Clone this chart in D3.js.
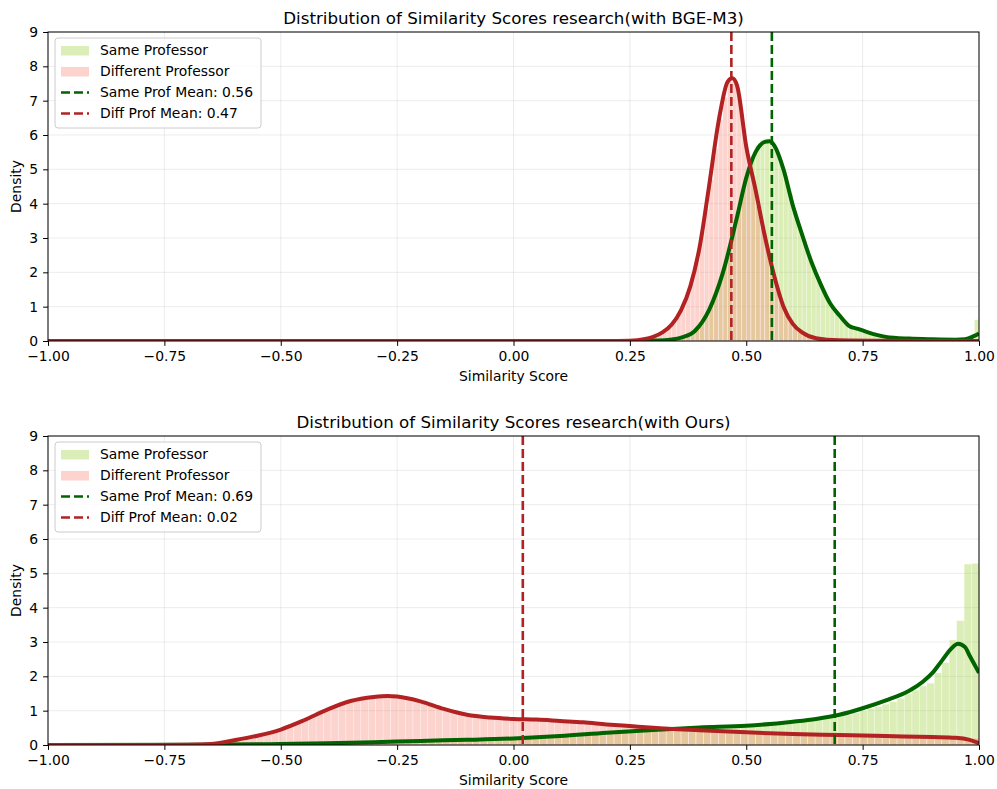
<!DOCTYPE html>
<html lang="en">
<head>
<meta charset="UTF-8">
<title>Similarity Scores</title>
<script src="https://cdn.jsdelivr.net/npm/d3@7"></script>
<style>
  body { margin: 0; background: #fff; }
  svg { font-family: "DejaVu Sans", sans-serif; display: block; }
</style>
</head>
<body>
<svg id="chart" width="997" height="789"></svg>
<script>
// ---- data ----
const xTicks = [-1, -0.75, -0.5, -0.25, 0, 0.25, 0.5, 0.75, 1];
const yTicks = [0, 1, 2, 3, 4, 5, 6, 7, 8, 9];

// top panel (BGE-M3)
const topTitle = "Distribution of Similarity Scores research(with BGE-M3)";
const topBinWidth = 0.01;
const topSameStart = 0.30;
const topSameHist = [0.0, 0.01, 0.02, 0.03, 0.05, 0.08, 0.12, 0.18, 0.27, 0.38,
  0.52, 0.75, 1.05, 1.4, 1.8, 2.2, 2.75, 3.3, 3.9, 4.45,
  4.95, 5.35, 5.7, 5.85, 5.9, 5.85, 5.55, 5.2, 4.8, 4.3,
  3.8, 3.35, 2.9, 2.5, 2.15, 1.8, 1.5, 1.25, 1.0, 0.82,
  0.67, 0.52, 0.42, 0.37, 0.32, 0.27, 0.23, 0.19, 0.15, 0.12,
  0.1, 0.09, 0.08, 0.08, 0.07, 0.07, 0.06, 0.06, 0.05, 0.05,
  0.05, 0.05, 0.04, 0.04, 0.04, 0.04, 0.03, 0.03, 0.04, 0.62];
const topDiffStart = 0.28;
const topDiffHist = [0.06, 0.08, 0.14, 0.2, 0.28, 0.4, 0.58, 0.8, 1.08, 1.42,
  1.85, 2.4, 3.1, 3.85, 4.7, 5.6, 6.45, 7.1, 7.55, 7.6,
  7.15, 6.2, 5.35, 4.7, 3.95, 3.3, 2.7, 2.1, 1.65, 1.2,
  0.85, 0.6, 0.42, 0.3, 0.2, 0.14, 0.09, 0.06, 0.04, 0.02, 0.01];
const topSameKdeX = [-1, 0.25, 0.30, 0.33, 0.36, 0.39, 0.42, 0.45, 0.48, 0.50, 0.52, 0.54, 0.55, 0.56, 0.58, 0.60,
  0.62, 0.64, 0.66, 0.68, 0.70, 0.72, 0.74, 0.76, 0.78, 0.80, 0.85, 0.90, 0.95, 0.97, 0.99, 1.0];
const topSameKdeY = [0, 0, 0.01, 0.03, 0.1, 0.3, 0.9, 2.0, 3.6, 4.75, 5.5, 5.8, 5.82, 5.7, 5.0, 3.95,
  3.1, 2.3, 1.65, 1.1, 0.75, 0.45, 0.35, 0.26, 0.18, 0.12, 0.07, 0.05, 0.04, 0.05, 0.15, 0.22];
const topDiffKdeX = [-1, 0.20, 0.25, 0.28, 0.30, 0.32, 0.34, 0.36, 0.38, 0.40, 0.42, 0.44, 0.46, 0.47, 0.48, 0.50,
  0.52, 0.54, 0.56, 0.58, 0.60, 0.62, 0.65, 0.70, 0.80, 1.0];
const topDiffKdeY = [0, 0, 0.01, 0.05, 0.12, 0.25, 0.48, 0.9, 1.6, 2.75, 4.5, 6.35, 7.55, 7.65, 7.45, 5.66,
  4.4, 3.05, 1.9, 1.0, 0.5, 0.25, 0.08, 0.02, 0.005, 0];
const topSameMean = 0.555;
const topDiffMean = 0.468;
const topLegend = ["Same Professor", "Different Professor", "Same Prof Mean: 0.56", "Diff Prof Mean: 0.47"];

// bottom panel (Ours)
const botTitle = "Distribution of Similarity Scores research(with Ours)";
const botBinWidth = 0.016;
const botSameStart = -1.0;
const botSameHist = [0, 0, 0, 0, 0, 0, 0, 0, 0, 0,
  0, 0, 0, 0.002, 0.003, 0.004, 0.005, 0.006, 0.008, 0.009,
  0.01, 0.012, 0.014, 0.016, 0.018, 0.02, 0.022, 0.024, 0.026, 0.028,
  0.03, 0.032, 0.034, 0.036, 0.038, 0.04, 0.042, 0.045, 0.048, 0.05,
  0.053, 0.056, 0.06, 0.064, 0.068, 0.072, 0.076, 0.08, 0.085, 0.09,
  0.095, 0.1, 0.105, 0.11, 0.115, 0.12, 0.125, 0.13, 0.14, 0.15,
  0.16, 0.17, 0.18, 0.19, 0.2, 0.21, 0.22, 0.24, 0.26, 0.28,
  0.3, 0.32, 0.34, 0.36, 0.38, 0.39, 0.4, 0.41, 0.42, 0.43,
  0.44, 0.45, 0.46, 0.47, 0.48, 0.49, 0.5, 0.51, 0.52, 0.53,
  0.54, 0.55, 0.55, 0.56, 0.57, 0.59, 0.61, 0.63, 0.65, 0.67,
  0.69, 0.71, 0.73, 0.75, 0.78, 0.81, 0.85, 0.89, 0.94, 1.0,
  1.07, 1.12, 1.19, 1.26, 1.36, 1.49, 1.6, 1.72, 1.8, 2.1,
  2.4, 3.06, 3.62, 5.27, 5.29];
const botDiffStart = -1.0;
const botDiffHist = [0, 0, 0, 0, 0, 0, 0, 0, 0, 0,
  0, 0, 0, 0.002, 0.003, 0.005, 0.007, 0.01, 0.015, 0.02,
  0.03, 0.045, 0.07, 0.1, 0.13, 0.17, 0.21, 0.25, 0.29, 0.34,
  0.4, 0.46, 0.54, 0.63, 0.72, 0.82, 0.92, 1.02, 1.1, 1.18,
  1.25, 1.31, 1.36, 1.39, 1.42, 1.43, 1.42, 1.39, 1.34, 1.29,
  1.22, 1.15, 1.08, 1.01, 0.96, 0.91, 0.87, 0.84, 0.81, 0.79,
  0.78, 0.77, 0.76, 0.75, 0.75, 0.74, 0.73, 0.72, 0.7, 0.69,
  0.68, 0.66, 0.65, 0.63, 0.61, 0.59, 0.57, 0.55, 0.54, 0.52,
  0.51, 0.5, 0.49, 0.48, 0.47, 0.46, 0.44, 0.43, 0.42, 0.41,
  0.4, 0.39, 0.38, 0.37, 0.36, 0.35, 0.34, 0.34, 0.33, 0.32,
  0.32, 0.31, 0.31, 0.3, 0.3, 0.29, 0.29, 0.28, 0.28, 0.27,
  0.27, 0.26, 0.26, 0.25, 0.25, 0.24, 0.24, 0.23, 0.23, 0.22,
  0.22, 0.21, 0.21, 0.2, 0.2];
const botSameKdeX = [-1, -0.7, -0.5, -0.4, -0.3, -0.2, -0.1, 0, 0.1, 0.2, 0.3, 0.4, 0.5, 0.6, 0.65, 0.7,
  0.75, 0.8, 0.85, 0.88, 0.9, 0.92, 0.94, 0.955, 0.97, 0.98, 0.99, 1.0];
const botSameKdeY = [0, 0.005, 0.03, 0.05, 0.08, 0.12, 0.15, 0.19, 0.26, 0.36, 0.44, 0.51, 0.56, 0.68, 0.76, 0.88,
  1.07, 1.3, 1.58, 1.85, 2.1, 2.45, 2.8, 2.95, 2.85, 2.6, 2.35, 2.1];
const botDiffKdeX = [-1, -0.8, -0.7, -0.65, -0.6, -0.55, -0.5, -0.45, -0.4, -0.35, -0.3, -0.27, -0.25, -0.2, -0.15,
  -0.1, -0.05, 0, 0.05, 0.1, 0.15, 0.2, 0.25, 0.3, 0.4, 0.5, 0.6, 0.7, 0.8, 0.9, 0.95, 0.98, 1.0];
const botDiffKdeY = [0, 0, 0.01, 0.03, 0.14, 0.27, 0.45, 0.72, 1.03, 1.28, 1.4, 1.43, 1.41, 1.27, 1.05,
  0.88, 0.8, 0.76, 0.74, 0.7, 0.66, 0.6, 0.55, 0.5, 0.43, 0.37, 0.32, 0.29, 0.26, 0.23, 0.21, 0.15, 0.05];
const botSameMean = 0.69;
const botDiffMean = 0.02;
const botLegend = ["Same Professor", "Different Professor", "Same Prof Mean: 0.69", "Diff Prof Mean: 0.02"];

// ---- drawing ----
const svg = d3.select("#chart");
const left = 48, plotW = 931, plotH = 309;
const sameFill = "#9acd32", diffFill = "#fa8072", fillAlpha = 0.35;
const sameLine = "#006400", diffLine = "#b22222";
const fontSize = 13.9, titleSize = 16.7;

const x = d3.scaleLinear().domain([-1, 1]).range([0, plotW]);
const y = d3.scaleLinear().domain([0, 9]).range([plotH, 0]);

function drawPanel(top, p, id) {
  const g = svg.append("g").attr("transform", `translate(${left},${top})`);

  g.append("clipPath").attr("id", id)
    .append("rect").attr("width", plotW).attr("height", plotH);

  // grid
  g.append("g").selectAll("line").data(xTicks).enter().append("line")
    .attr("x1", d => x(d)).attr("x2", d => x(d)).attr("y1", 0).attr("y2", plotH)
    .attr("stroke", "#b0b0b0").attr("stroke-opacity", 0.3).attr("stroke-width", 0.8);
  g.append("g").selectAll("line").data(yTicks).enter().append("line")
    .attr("y1", d => y(d)).attr("y2", d => y(d)).attr("x1", 0).attr("x2", plotW)
    .attr("stroke", "#b0b0b0").attr("stroke-opacity", 0.3).attr("stroke-width", 0.8);

  const plot = g.append("g").attr("clip-path", `url(#${id})`);

  function bars(vals, start, width, color) {
    plot.append("g").selectAll("rect").data(vals).enter().append("rect")
      .attr("x", (d, i) => x(start + i * width))
      .attr("width", (d, i) => x(start + (i + 1) * width) - x(start + i * width))
      .attr("y", d => y(d))
      .attr("height", d => plotH - y(d))
      .attr("fill", color).attr("fill-opacity", fillAlpha)
      .attr("stroke", "#fff").attr("stroke-opacity", 0.5).attr("stroke-width", 0.6);
  }
  bars(p.sameHist, p.sameStart, p.binWidth, sameFill);
  bars(p.diffHist, p.diffStart, p.binWidth, diffFill);

  const line = d3.line().x(d => x(d[0])).y(d => y(d[1])).curve(d3.curveMonotoneX);
  plot.append("path").datum(d3.zip(p.sameKdeX, p.sameKdeY))
    .attr("d", line).attr("fill", "none").attr("stroke", sameLine).attr("stroke-width", 4);
  plot.append("path").datum(d3.zip(p.diffKdeX, p.diffKdeY))
    .attr("d", line).attr("fill", "none").attr("stroke", diffLine).attr("stroke-width", 4);

  // mean lines
  [[p.sameMean, sameLine], [p.diffMean, diffLine]].forEach(([m, c]) => {
    plot.append("line").attr("x1", x(m)).attr("x2", x(m)).attr("y1", 0).attr("y2", plotH)
      .attr("stroke", c).attr("stroke-width", 2.6).attr("stroke-dasharray", "9,4");
  });

  // axes
  const xa = g.append("g").attr("transform", `translate(0,${plotH})`)
    .call(d3.axisBottom(x).tickValues(xTicks).tickFormat(d3.format(".2f"))
      .tickSizeOuter(0).tickSize(4.9).tickPadding(4.9));
  const ya = g.append("g")
    .call(d3.axisLeft(y).tickValues(yTicks).tickFormat(d3.format("d"))
      .tickSizeOuter(0).tickSize(4.9).tickPadding(4.9));
  [xa, ya].forEach(a => {
    a.select(".domain").remove();
    a.attr("font-family", "DejaVu Sans, sans-serif").attr("font-size", fontSize);
    a.selectAll(".tick line").attr("stroke", "#000").attr("stroke-width", 1);
    a.selectAll(".tick text").attr("fill", "#000").attr("font-size", fontSize);
  });

  g.append("rect").attr("width", plotW).attr("height", plotH)
    .attr("fill", "none").attr("stroke", "#000").attr("stroke-width", 1);

  // titles
  g.append("text").attr("x", plotW / 2).attr("y", -8).attr("text-anchor", "middle")
    .attr("font-size", titleSize).text(p.title);
  g.append("text").attr("x", plotW / 2).attr("y", plotH + 40).attr("text-anchor", "middle")
    .attr("font-size", fontSize).text("Similarity Score");
  g.append("text").attr("transform", `translate(-27,${plotH / 2}) rotate(-90)`)
    .attr("text-anchor", "middle").attr("font-size", fontSize).text("Density");

  // legend
  const lg = g.append("g").attr("transform", "translate(7,6)");
  lg.append("rect").attr("width", 206).attr("height", 90).attr("rx", 3)
    .attr("fill", "#fff").attr("fill-opacity", 0.8).attr("stroke", "#ccc");
  const items = [
    { kind: "patch", color: sameFill },
    { kind: "patch", color: diffFill },
    { kind: "line", color: sameLine },
    { kind: "line", color: diffLine }
  ];
  items.forEach((it, i) => {
    const cy = 12.5 + i * 21;
    if (it.kind === "patch") {
      lg.append("rect").attr("x", 6).attr("y", cy - 4.5).attr("width", 28).attr("height", 9.5)
        .attr("fill", it.color).attr("fill-opacity", fillAlpha);
    } else {
      lg.append("line").attr("x1", 6).attr("x2", 34).attr("y1", cy).attr("y2", cy)
        .attr("stroke", it.color).attr("stroke-width", 2.6).attr("stroke-dasharray", "9,4");
    }
    lg.append("text").attr("x", 45).attr("y", cy).attr("dy", "0.35em")
      .attr("font-size", fontSize).text(p.legend[i]);
  });
}

drawPanel(32, {
  title: topTitle, binWidth: topBinWidth,
  sameStart: topSameStart, sameHist: topSameHist, diffStart: topDiffStart, diffHist: topDiffHist,
  sameKdeX: topSameKdeX, sameKdeY: topSameKdeY, diffKdeX: topDiffKdeX, diffKdeY: topDiffKdeY,
  sameMean: topSameMean, diffMean: topDiffMean, legend: topLegend
}, "clipTop");

drawPanel(436, {
  title: botTitle, binWidth: botBinWidth,
  sameStart: botSameStart, sameHist: botSameHist, diffStart: botDiffStart, diffHist: botDiffHist,
  sameKdeX: botSameKdeX, sameKdeY: botSameKdeY, diffKdeX: botDiffKdeX, diffKdeY: botDiffKdeY,
  sameMean: botSameMean, diffMean: botDiffMean, legend: botLegend
}, "clipBot");
</script>
</body>
</html>
